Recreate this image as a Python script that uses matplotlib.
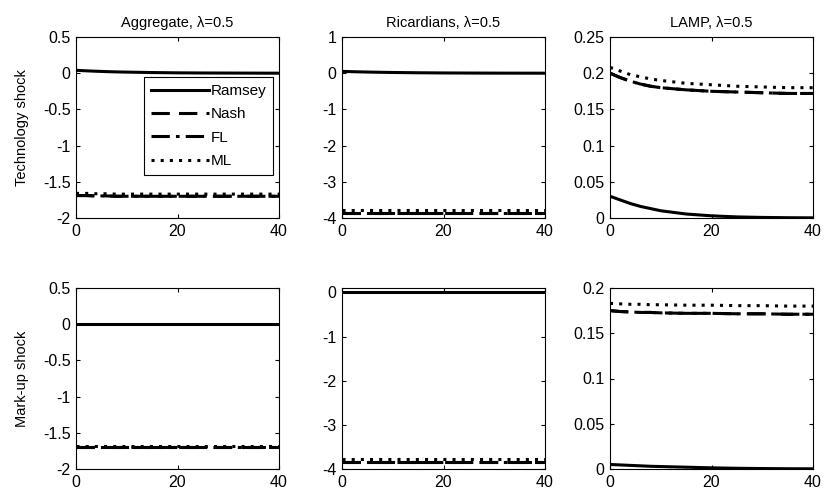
import numpy as np
import matplotlib
matplotlib.use("Agg")
from matplotlib import pyplot as plt

plt.rcParams['font.family'] = ['Liberation Sans', 'DejaVu Sans']
plt.rcParams['font.size'] = 10

# time grid (quarters)
t = [0, 2, 4, 6, 8, 10, 15, 20, 25, 30, 35, 40]

# technology shock
agg_tech_ramsey = [0.04, 0.033, 0.027, 0.022, 0.018, 0.015, 0.009, 0.005, 0.003, 0.002, 0.001, 0.0]
agg_tech_nash = [-1.69, -1.69, -1.695, -1.695, -1.70, -1.70, -1.70, -1.70, -1.70, -1.70, -1.70, -1.70]
agg_tech_fl = [-1.69, -1.69, -1.695, -1.695, -1.70, -1.70, -1.70, -1.70, -1.70, -1.70, -1.70, -1.70]
agg_tech_ml = [-1.66, -1.66, -1.665, -1.665, -1.67, -1.67, -1.67, -1.67, -1.67, -1.67, -1.67, -1.67]

ric_tech_ramsey = [0.05, 0.042, 0.035, 0.029, 0.024, 0.02, 0.012, 0.007, 0.004, 0.002, 0.001, 0.0]
ric_tech_nash = [-3.85, -3.85, -3.85, -3.85, -3.85, -3.85, -3.85, -3.85, -3.85, -3.85, -3.85, -3.85]
ric_tech_fl = [-3.85, -3.85, -3.85, -3.85, -3.85, -3.85, -3.85, -3.85, -3.85, -3.85, -3.85, -3.85]
ric_tech_ml = [-3.78, -3.78, -3.78, -3.78, -3.78, -3.78, -3.78, -3.78, -3.78, -3.78, -3.78, -3.78]

lamp_tech_ramsey = [0.030, 0.025, 0.020, 0.016, 0.013, 0.010, 0.0055, 0.003, 0.0015, 0.0008, 0.0004, 0.0002]
lamp_tech_nash = [0.200, 0.194, 0.189, 0.185, 0.182, 0.180, 0.177, 0.175, 0.174, 0.173, 0.172, 0.172]
lamp_tech_fl = [0.200, 0.194, 0.189, 0.185, 0.182, 0.180, 0.177, 0.175, 0.174, 0.173, 0.172, 0.172]
lamp_tech_ml = [0.208, 0.203, 0.198, 0.195, 0.192, 0.190, 0.186, 0.184, 0.182, 0.181, 0.180, 0.180]

# mark-up shock
agg_mu_ramsey = [0.0] * 12
agg_mu_nash = [-1.70] * 12
agg_mu_fl = [-1.70] * 12
agg_mu_ml = [-1.68] * 12

ric_mu_ramsey = [0.0] * 12
ric_mu_nash = [-3.85] * 12
ric_mu_fl = [-3.85] * 12
ric_mu_ml = [-3.78] * 12

lamp_mu_ramsey = [0.005, 0.0045, 0.004, 0.0035, 0.003, 0.0027, 0.002, 0.0013, 0.0008, 0.0005, 0.0003, 0.0002]
lamp_mu_nash = [0.175, 0.174, 0.1735, 0.173, 0.173, 0.1725, 0.172, 0.172, 0.1715, 0.1715, 0.171, 0.171]
lamp_mu_fl = [0.175, 0.174, 0.1735, 0.173, 0.173, 0.1725, 0.172, 0.172, 0.1715, 0.1715, 0.171, 0.171]
lamp_mu_ml = [0.183, 0.1825, 0.182, 0.182, 0.1815, 0.1815, 0.181, 0.181, 0.1805, 0.1805, 0.180, 0.180]

titles = ["Aggregate, \u03bb=0.5", "Ricardians, \u03bb=0.5", "LAMP, \u03bb=0.5"]
row_labels = ["Technology shock", "Mark-up shock"]
labels = ["Ramsey", "Nash", "FL", "ML"]

panels = [
    [(agg_tech_ramsey, agg_tech_nash, agg_tech_fl, agg_tech_ml),
     (ric_tech_ramsey, ric_tech_nash, ric_tech_fl, ric_tech_ml),
     (lamp_tech_ramsey, lamp_tech_nash, lamp_tech_fl, lamp_tech_ml)],
    [(agg_mu_ramsey, agg_mu_nash, agg_mu_fl, agg_mu_ml),
     (ric_mu_ramsey, ric_mu_nash, ric_mu_fl, ric_mu_ml),
     (lamp_mu_ramsey, lamp_mu_nash, lamp_mu_fl, lamp_mu_ml)],
]
ylims = [[(-2, 0.5), (-4, 1), (0, 0.25)], [(-2, 0.5), (-4, 0.1), (0, 0.2)]]
yticks = [[[-2, -1.5, -1, -0.5, 0, 0.5], [-4, -3, -2, -1, 0, 1], [0, 0.05, 0.1, 0.15, 0.2, 0.25]],
          [[-2, -1.5, -1, -0.5, 0, 0.5], [-4, -3, -2, -1, 0], [0, 0.05, 0.1, 0.15, 0.2]]]
styles = ['-', (0, (6, 3)), (0, (6, 2, 1.2, 2)), (0, (1, 2))]

fig = plt.figure(figsize=(8.25, 4.97), dpi=100)
W, H = 825, 497
lefts = [76, 342, 610]
width = 203
tops = [37, 288]
height = 181

for r in range(2):
    for c in range(3):
        ax = fig.add_axes([lefts[c] / W, 1 - (tops[r] + height) / H, width / W, height / H])
        series = panels[r][c]
        for y, ls, lab in zip(series, styles, labels):
            ax.plot(t, y, color='black', linestyle=ls, linewidth=2.2, label=lab)
        ax.set_xlim(0, 40)
        ax.set_ylim(*ylims[r][c])
        ax.set_xticks([0, 20, 40])
        ax.set_yticks(yticks[r][c])
        ax.set_yticklabels(['%g' % v for v in yticks[r][c]])
        ax.tick_params(direction='in', top=True, right=True, length=3, labelsize=11.5, pad=4)
        for s in ax.spines.values():
            s.set_linewidth(0.8)
        if r == 0:
            ax.set_title(titles[c], fontsize=10.5, pad=7)
        if c == 0:
            ax.set_ylabel(row_labels[r], fontsize=10.5, labelpad=10)
        if r == 0 and c == 0:
            leg = ax.legend(loc='upper right', bbox_to_anchor=(0.97, 0.779), handlelength=3.8,
                            handletextpad=0.1, fancybox=False, framealpha=1, borderpad=0.45,
                            labelspacing=0.62, fontsize=11, borderaxespad=0)
            leg.get_frame().set_edgecolor('black')
            leg.get_frame().set_linewidth(0.8)

fig.savefig("out.png", dpi=100)
